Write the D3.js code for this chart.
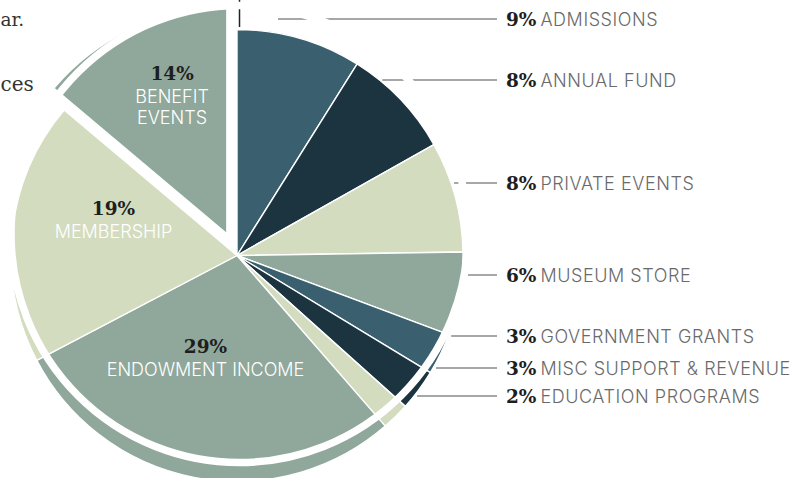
<!DOCTYPE html>
<html><head><meta charset="utf-8">
<script src="https://cdn.jsdelivr.net/npm/d3@7"></script>
<style>html,body{margin:0;padding:0;background:#fff;overflow:hidden}</style>
</head><body>
<svg id="chart" width="799" height="478"></svg>
<script>
// ---- data ----
const categories = ["ADMISSIONS","ANNUAL FUND","PRIVATE EVENTS","MUSEUM STORE","GOVERNMENT GRANTS","MISC SUPPORT & REVENUE","EDUCATION PROGRAMS","ENDOWMENT INCOME","MEMBERSHIP","BENEFIT EVENTS"];
const values = [9, 8, 8, 6, 3, 3, 2, 29, 19, 14];
const pctLabels = ["9%","8%","8%","6%","3%","3%","2%","29%","19%","14%"];
const sliceColors = ["#3a606f","#1b3440","#d3dcbf","#8fa89b","#3a606f","#1b3440","#d3dcbf","#8fa89b","#d3dcbf","#8fa89b"];
const calloutCategories = ["ADMISSIONS","ANNUAL FUND","PRIVATE EVENTS","MUSEUM STORE","GOVERNMENT GRANTS","MISC SUPPORT & REVENUE","EDUCATION PROGRAMS"];
const insideCategories = ["ENDOWMENT INCOME","MEMBERSHIP","BENEFIT EVENTS"];
const insideNameLines = [["ENDOWMENT INCOME"],["MEMBERSHIP"],["BENEFIT","EVENTS"]];
const explodedCategory = "BENEFIT EVENTS";
const textFragments = ["ar.","ces"];

// ---- layout ----
const W = 799, H = 478;
const cx = 237, cy = 255.5, R = 226;
const explode = 24;
const ring = {x: 239.5, y: 234, r: 228.5, w: 7.5};
const calloutY = [19, 80, 183, 275, 336, 368, 396];
const lineEndX = 497, labelX = 506;
const insideLayout = {
  "ENDOWMENT INCOME": {r: 102.5, dA: 7.2},
  "MEMBERSHIP": {r: 130, dA: 12},
  "BENEFIT EVENTS": {r: 163, dA: 5.3}
};

const svg = d3.select("#chart");
const data = categories.map((c, i) => ({cat: c, value: values[i], pct: pctLabels[i], color: sliceColors[i]}));
const pie = d3.pie().sort(null).value(d => d.value).startAngle(0).endAngle(2 * Math.PI);
const arcs = pie(data);
const arcGen = d3.arc().innerRadius(0).outerRadius(R);

function offsetOf(a) {
  if (a.data.cat !== explodedCategory) return [0, 0];
  const m = (a.startAngle + a.endAngle) / 2;
  return [Math.sin(m) * explode, -Math.cos(m) * explode];
}

const gPie = svg.append("g");
gPie.selectAll("path").data(arcs).join("path")
  .attr("transform", d => { const o = offsetOf(d); return `translate(${cx + o[0]},${cy + o[1]})`; })
  .attr("d", arcGen)
  .attr("fill", d => d.data.color)
  .attr("stroke", "#fff")
  .attr("stroke-width", 1.4)
  .attr("stroke-linejoin", "round");

// leader lines
const gLines = svg.append("g");
calloutCategories.forEach((c, i) => {
  const y = calloutY[i];
  const dy = y - cy;
  const x0 = Math.abs(dy) < R ? cx + Math.sqrt(R * R - dy * dy) + 3 : cx + 41;
  gLines.append("line").attr("x1", x0).attr("x2", lineEndX).attr("y1", y).attr("y2", y)
    .attr("stroke", "#8a8a8a").attr("stroke-width", 1.5);
});

// vertical pointer line at top
svg.append("line").attr("x1", cx + 2.5).attr("x2", cx + 2.5).attr("y1", 0).attr("y2", 27)
  .attr("stroke", "#222").attr("stroke-width", 1.5);

// white ring cut
svg.append("circle").attr("cx", ring.x).attr("cy", ring.y).attr("r", ring.r)
  .attr("fill", "none").attr("stroke", "#fff").attr("stroke-width", ring.w);

// callout labels
const gLab = svg.append("g");
calloutCategories.forEach((c, i) => {
  const d = data.find(e => e.cat === c);
  const t = gLab.append("text").attr("x", labelX).attr("y", calloutY[i] + 7);
  t.append("tspan").text(d.pct)
    .attr("font-family", "DejaVu Serif").attr("font-weight", "bold").attr("font-size", 18.5).attr("fill", "#1e1e1e");
  t.append("tspan").attr("dx", 4).text(d.cat)
    .attr("font-family", "Inter").attr("font-weight", 300).attr("font-size", 18)
    .attr("letter-spacing", 0.55).attr("fill", "#6a6a6a");
});

// inside labels
insideCategories.forEach((c, i) => {
  const a = arcs.find(e => e.data.cat === c);
  const o = offsetOf(a);
  const L = insideLayout[c];
  const ang = (a.startAngle + a.endAngle) / 2 + L.dA * Math.PI / 180;
  const x = cx + o[0] + Math.sin(ang) * L.r;
  const y = cy + o[1] - Math.cos(ang) * L.r;
  svg.append("text").attr("x", x).attr("y", y).attr("text-anchor", "middle")
    .attr("font-family", "DejaVu Serif").attr("font-weight", "bold").attr("font-size", 18.5)
    .attr("fill", "#1e1e1e").text(a.data.pct);
  insideNameLines[i].forEach((ln, j) => {
    svg.append("text").attr("x", x).attr("y", y + 23 + j * 21).attr("text-anchor", "middle")
      .attr("font-family", "Inter").attr("font-weight", 300).attr("font-size", 18)
      .attr("fill", "#fff").text(ln);
  });
});

// cut-off text fragments at left
svg.append("text").attr("x", 0.5).attr("y", 26)
  .attr("font-family", "DejaVu Serif").attr("font-size", 18.5).attr("fill", "#333").text(textFragments[0]);
svg.append("text").attr("x", 0.5).attr("y", 91)
  .attr("font-family", "DejaVu Serif").attr("font-size", 20).attr("fill", "#333").text(textFragments[1]);
</script>
</body></html>
